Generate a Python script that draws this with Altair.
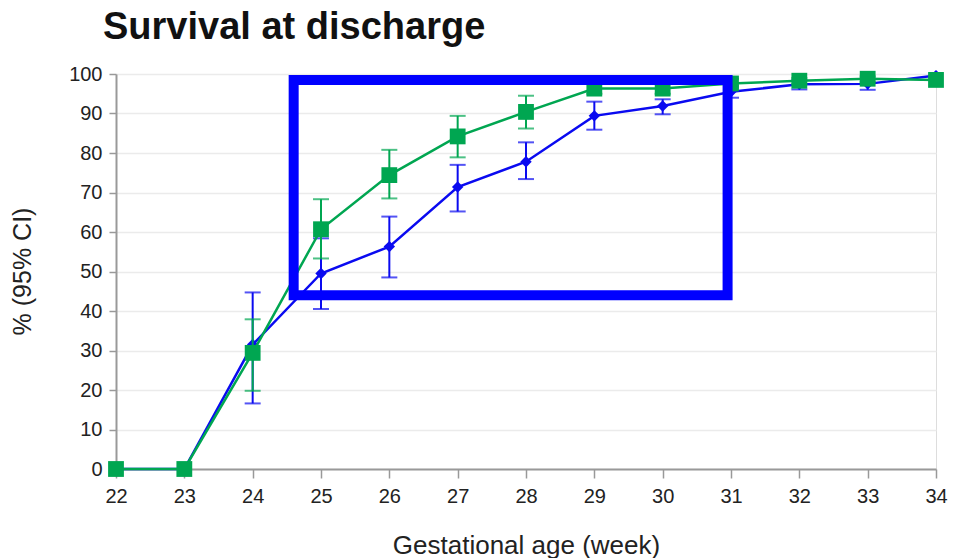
import altair as alt
import pandas as pd

weeks = [22, 23, 24, 25, 26, 27, 28, 29, 30, 31, 32, 33, 34]
blue_val = [0, 0, 31.5, 49.5, 56.3, 71.4, 77.8, 89.4, 91.9, 95.5, 97.4, 97.5, 99.6]
blue_lo = [None, None, 16.6, 40.5, 48.5, 65.2, 73.4, 85.9, 89.8, 94.0, 96.1, 96.0, None]
blue_hi = [None, None, 44.7, 58.4, 63.9, 77.0, 82.7, 93.0, 93.6, 97.0, 98.5, 98.8, None]
green_val = [0, 0, 29.4, 60.7, 74.4, 84.2, 90.4, 96.3, 96.3, 97.6, 98.3, 98.8, 98.5]
green_lo = [None, None, 19.8, 53.3, 68.5, 78.9, 86.2, 95.0, 95.0, 96.5, 97.5, 98.0, None]
green_hi = [None, None, 37.9, 68.3, 80.8, 89.4, 94.5, 97.5, 97.5, 98.8, 99.0, 99.4, None]

# highlight box corners (data units)
box_x = [24.6, 30.95]
box_y = [44.0, 98.5]

x_ticks = list(range(22, 35))
y_ticks = list(range(0, 101, 10))

BLUE = "#0a0af0"
GREEN = "#00a651"
FONT = "Liberation Sans"

xs = alt.Scale(domain=[22, 34], nice=False, zero=False)
ys = alt.Scale(domain=[0, 100], nice=False)

x_axis = alt.Axis(values=x_ticks, format="d", grid=False, tickSize=9, tickColor="#999",
                  domainColor="#999", domainWidth=2, tickWidth=1.5,
                  labelFontSize=20, labelColor="#222", labelPadding=8,
                  labelFlush=False, labelOverlap=False,
                  labelFont=FONT, titleFont=FONT,
                  titleFontSize=26, titleFontWeight="normal", titleColor="#222",
                  titleX=410, titleY=76, titleBaseline="middle")
y_axis = alt.Axis(values=y_ticks, tickCount=11, format="d", grid=True, gridColor="#ebebeb",
                  gridWidth=1.5, tickSize=7, tickColor="#999", domainColor="#999", domainWidth=2,
                  tickWidth=1.5, labelFontSize=20, labelColor="#222", labelPadding=7,
                  labelFlush=False, labelOverlap=False,
                  labelFont=FONT, titleFont=FONT,
                  titleFontSize=25, titleFontWeight="normal", titleColor="#222",
                  titleX=-94, titleY=197, titleBaseline="middle")

XT = "Gestational age (week)"
YT = "% (95% CI)"


def X(field):
    return alt.X(field, scale=xs, axis=x_axis, title=XT)


def Y(field):
    return alt.Y(field, scale=ys, axis=y_axis, title=YT)


def series(vals, lo, hi, color, shape, size):
    df = pd.DataFrame({"week": weeks, "v": vals, "lo": lo, "hi": hi})
    dci = df.dropna()
    base = alt.Chart(df)
    cib = alt.Chart(dci)
    rule = cib.mark_rule(color=color, strokeWidth=2).encode(
        x=X("week:Q"), y=Y("lo:Q"), y2="hi:Q")
    cap_lo = cib.mark_tick(color=color, orient="horizontal", size=16, thickness=2).encode(
        x=X("week:Q"), y=Y("lo:Q"))
    cap_hi = cib.mark_tick(color=color, orient="horizontal", size=16, thickness=2).encode(
        x=X("week:Q"), y=Y("hi:Q"))
    line = base.mark_line(color=color, strokeWidth=2.5).encode(
        x=X("week:Q"), y=Y("v:Q"))
    pts = base.mark_point(color=color, filled=True, opacity=1, shape=shape, size=size).encode(
        x=X("week:Q"), y=Y("v:Q"))
    return [rule, cap_lo, cap_hi, line, pts]


box_df = pd.DataFrame({"x1": [box_x[0]], "x2": [box_x[1]], "y1": [box_y[0]], "y2": [box_y[1]]})
box = alt.Chart(box_df).mark_rect(fill=None, fillOpacity=0, stroke="#0000ff", strokeWidth=10).encode(
    x=X("x1:Q"), x2="x2:Q", y=Y("y1:Q"), y2="y2:Q")

layers = series(blue_val, blue_lo, blue_hi, BLUE, "diamond", 130) \
    + series(green_val, green_lo, green_hi, GREEN, "square", 250) + [box]

chart = alt.layer(*layers).properties(
    width=820, height=395,
    autosize=alt.AutoSizeParams(type="none"),
    padding={"left": 116, "top": 74, "right": 18, "bottom": 89},
    title=alt.TitleParams("Survival at discharge", anchor="start", frame="group",
                          fontSize=38, fontWeight="bold", font=FONT,
                          color="#111", dx=-13, dy=38, offset=25, baseline="alphabetic"),
).configure_view(stroke=None).configure(background="white")

chart.save("out.html", embed_options={"renderer": "svg", "actions": False})
